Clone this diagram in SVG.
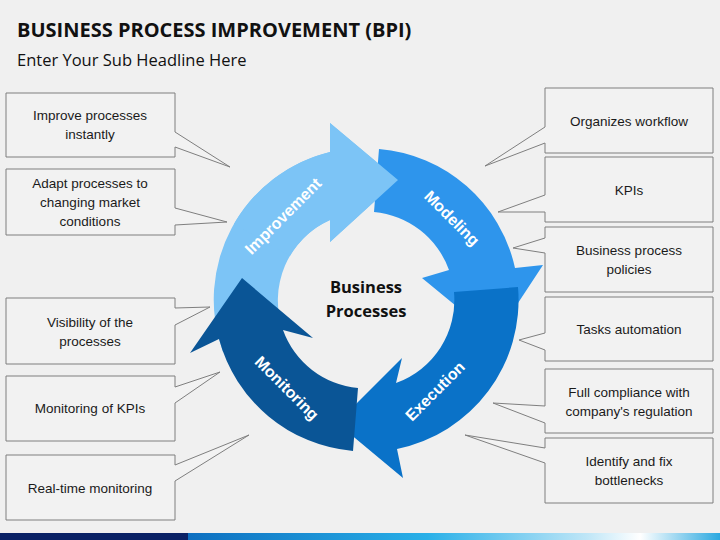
<svg xmlns="http://www.w3.org/2000/svg" width="720" height="540" viewBox="0 0 720 540">
<defs>
<style>
.co{fill:#f2f2f2;stroke:#7f7f7f;stroke-width:1}
.t{font-family:"Liberation Sans",Arial,sans-serif;font-size:13.5px;fill:#1a1a1a;text-anchor:middle}
.al{font-family:"Liberation Sans",Arial,sans-serif;font-size:16px;font-weight:bold;fill:#fff;text-anchor:middle}
</style>
<linearGradient id="bar" x1="0" x2="1" y1="0" y2="0">
<stop offset="0" stop-color="#0d6fc0"/><stop offset="0.45" stop-color="#29b0e8"/><stop offset="0.75" stop-color="#bfe6f7"/><stop offset="0.85" stop-color="#ffffff"/><stop offset="1" stop-color="#2aa8e0"/>
</linearGradient>
</defs>
<rect width="720" height="540" fill="#f0f0f0"/>
<text x="17" y="37" font-family="'Open Sans','Liberation Sans',sans-serif" font-size="20" font-weight="bold" fill="#111">BUSINESS PROCESS IMPROVEMENT (BPI)</text>
<text x="17" y="66" font-family="'Open Sans','Liberation Sans',sans-serif" font-size="16.5" fill="#111">Enter Your Sub Headline Here</text>
<rect x="0" y="533" width="188" height="7" fill="#0b2266"/>
<rect x="188" y="533" width="532" height="7" fill="url(#bar)"/>

<g id="connectors">
<path class="co" d="M6,93 H175 V132 L230,167 L175,147 V157 H6 Z"/>
<path class="co" d="M6,169 H175 V208 L227,222 L175,225 V235 H6 Z"/>
<path class="co" d="M6,298 H175 V308 L210,307 L175,325 V364 H6 Z"/>
<path class="co" d="M6,376 H175 V387 L220,372 L175,403 V441 H6 Z"/>
<path class="co" d="M6,455 H175 V465 L249,435 L175,481 V520 H6 Z"/>
<path class="co" d="M713,88 H545 V127 L485,166 L545,143 V153 H713 Z"/>
<path class="co" d="M713,157 H545 V195 L498,212 L545,212 V222 H713 Z"/>
<path class="co" d="M713,227 H545 V238 L513,248 L545,253 V292 H713 Z"/>
<path class="co" d="M713,297 H545 V333 L519,340 L545,350 V361 H713 Z"/>
<path class="co" d="M713,369 H545 V406 L493,403 L545,423 V433 H713 Z"/>
<path class="co" d="M713,438 H545 V448 L465,435 L545,463 V503 H713 Z"/>
</g>

<g id="n-improve-text">
<text class="t" x="90" y="120">Improve  processes</text><text class="t" x="90" y="139">instantly</text>
<text class="t" x="90" y="188">Adapt processes to</text><text class="t" x="90" y="207">changing market</text><text class="t" x="90" y="226">conditions</text>
<text class="t" x="90" y="327">Visibility of the</text><text class="t" x="90" y="346">processes</text>
<text class="t" x="90" y="413">Monitoring  of KPIs</text>
<text class="t" x="90" y="493">Real-time monitoring</text>
<text class="t" x="629" y="126">Organizes workflow</text>
<text class="t" x="629" y="195">KPIs</text>
<text class="t" x="629" y="255">Business process</text><text class="t" x="629" y="274">policies</text>
<text class="t" x="629" y="334">Tasks automation</text>
<text class="t" x="629" y="397">Full compliance with</text><text class="t" x="629" y="416">company's regulation</text>
<text class="t" x="629" y="466">Identify and fix</text><text class="t" x="629" y="485">bottlenecks</text>
</g>

<g id="improvement">
<path fill="#7cc4f6" d="M223,352 A152,152 0 0 1 330,152 L330,123 L398,180 L330,242 L330,220 A88,88 0 0 0 283,330 Z"/>
</g>
<g id="modeling">
<path fill="#2e95ec" d="M379,149 A152,152 0 0 1 515,268 L543,265 L495,338 L422,278 L449,270 A88,88 0 0 0 374,212 Z"/>
</g>
<g id="execution">
<path fill="#0a72c8" d="M518,287 A152,152 0 0 1 397,449 L403,478 L337,423 L402,358 L396,383 A88,88 0 0 0 454,292 Z"/>
</g>
<g id="monitoring">
<path fill="#0a5596" d="M353,451 A152,152 0 0 1 219,339 L190,353 L242,278 L313,338 L283,330 A88,88 0 0 0 358,388 Z"/>
</g>
<g id="improvement-head">
<path fill="#7cc4f6" d="M234,224 A152,152 0 0 1 330,152 L330,123 L398,180 L330,242 L330,220 A88,88 0 0 0 290,256 Z"/>
</g>
<g id="labels">
<text class="al" transform="translate(287,220) rotate(-45)">Improvement</text>
<text class="al" transform="translate(448,222) rotate(45)">Modeling</text>
<text class="al" transform="translate(439,395) rotate(-45)">Execution</text>
<text class="al" transform="translate(283,392) rotate(45)">Monitoring</text>
</g>
<g id="center">
<text x="366" y="293" font-family="'Open Sans','Liberation Sans',sans-serif" font-size="16.5" font-weight="bold" text-anchor="middle" fill="#111">Business</text>
<text x="366" y="317" font-family="'Open Sans','Liberation Sans',sans-serif" font-size="16.5" font-weight="bold" text-anchor="middle" fill="#111">Processes</text>
</g>
</svg>
